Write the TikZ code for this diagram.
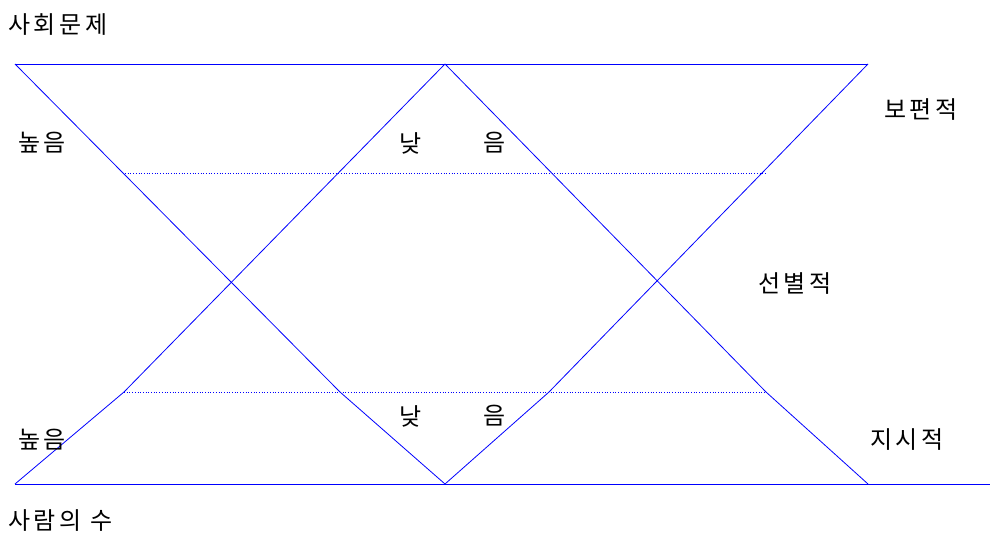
\documentclass[tikz,border=0pt]{standalone}
\usepackage{fontspec}
\setmainfont{Noto Sans CJK KR}[LetterSpace=15]
\begin{document}
\begin{tikzpicture}[x=1pt,y=-1pt,
  bl/.style={draw=blue,line width=0.8pt},
  dl/.style={draw=blue,line width=0.7pt,dotted},
  lbl/.style={inner sep=0pt,font=\fontsize{24}{28}\selectfont}]
\useasboundingbox (0,0) rectangle (991,538);
% coordinates
\coordinate (A) at (15,64);
\coordinate (M) at (445,64);
\coordinate (B) at (868,64);
\coordinate (C) at (15,484);
\coordinate (N) at (445,484);
\coordinate (D) at (868,484);
\coordinate (E) at (990,484);
\coordinate (P1) at (125,173);
\coordinate (P2) at (767,173);
\coordinate (Q1) at (124,392);
\coordinate (Q2) at (766,392);
\coordinate (K1) at (340,392);
\coordinate (K2) at (549,392);
% lines
\draw[bl] (A) -- (B);
\draw[bl] (C) -- (E);
\draw[bl] (A) -- (K1) -- (N);
\draw[bl] (C) -- (Q1) -- (M);
\draw[bl] (M) -- (Q2) -- (D);
\draw[bl] (N) -- (K2) -- (B);
\draw[dl] (P1) -- (P2);
\draw[dl] (Q1) -- (Q2);
% labels
\node[lbl,anchor=west] (t1) at (8,25) {사회문제};
\node[lbl,anchor=west] (t2) at (18,143) {높음};
\node[lbl] (t3) at (411,143) {낮};
\node[lbl] (t4) at (495,143) {음};
\node[lbl,anchor=west] (t5) at (884,110) {보편적};
\node[lbl,anchor=west] (t6) at (758,284) {선별적};
\node[lbl,anchor=west] (t7) at (18,440) {높음};
\node[lbl] (t8) at (411,416) {낮};
\node[lbl] (t9) at (495,416) {음};
\node[lbl,anchor=west] (t10) at (870,440) {지시적};
\node[lbl,anchor=west] (t11) at (8,521) {사람의 수};
\end{tikzpicture}
\end{document}
